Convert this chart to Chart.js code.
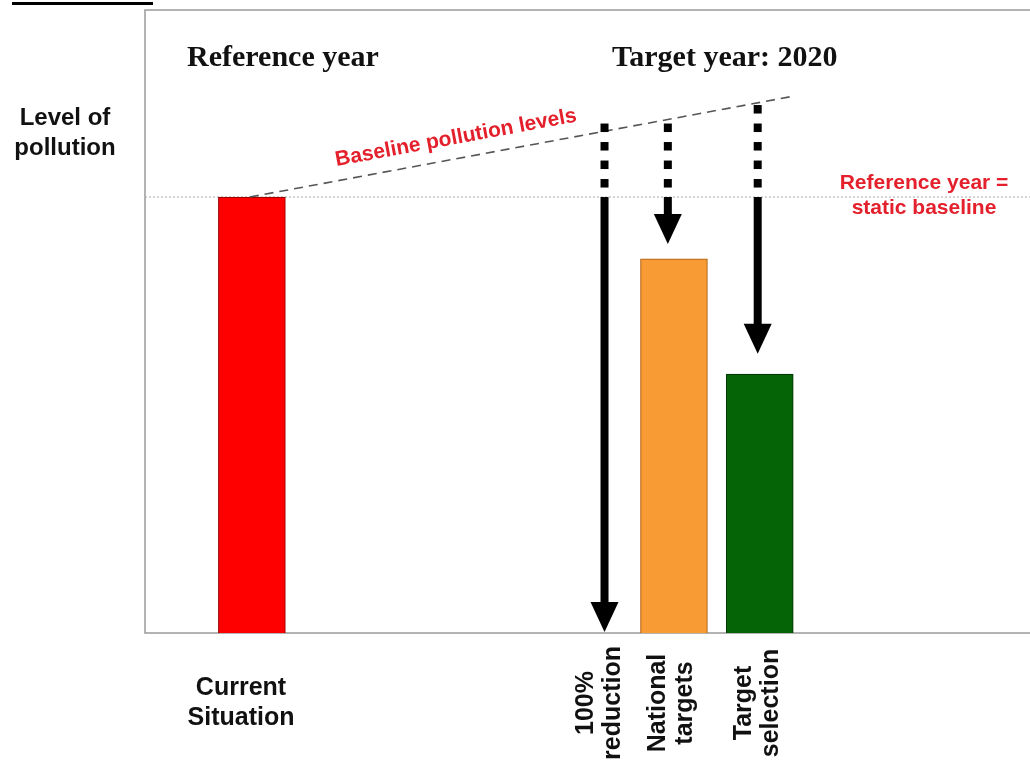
<!DOCTYPE html>
<html lang="en">
<head>
    <meta charset="UTF-8">
    <title>Baseline pollution levels</title>
    <!-- Chart.js CDN -->
    <script src="https://cdn.jsdelivr.net/npm/chart.js"></script>
    <style>
        body { margin: 0; background: #fff; }
        canvas { display: block; }
    </style>
</head>
<body>

    <canvas id="pollutionChart" width="1030" height="769"></canvas>

    <script>
        // Bars (x = position on the horizontal axis, level = pollution level, reference year = 100)
        const barX = [1.57, 7.77, 9.03];
        const barLevels = [100, 85.8, 59.4];
        const barColors = ['#ff0000', '#f99b35', '#056405'];
        const barBorders = ['#a00000', '#b8691c', '#023a02'];

        // Baseline (dashed) and static reference line
        const baselineX = [1.54, 9.55];
        const baselineY = [100, 123.2];
        const referenceLevel = 100;

        // Arrows: start on the baseline, end at the target level
        const arrowX = [6.75, 7.68, 9.0];
        const arrowFrom = [115.6, 117.8, 122];
        const arrowTo = [0, 89, 63.8];

        // Axis labels
        const labelX = [1.41, 6.68, 7.73, 9.0];
        const labelLines = [['Current', 'Situation'], ['100%', 'reduction'], ['National', 'targets'], ['Target', 'selection']];
        const labelRotated = [false, true, true, true];

        const SANS = '"Liberation Sans", Arial, sans-serif';
        const SERIF = '"Liberation Serif", "Times New Roman", serif';
        const RED_TEXT = '#e3202b';

        // Frame, arrows and all the annotation texts
        const decorPlugin = {
            id: 'decor',
            beforeDatasetsDraw(chart) {
                const { ctx, chartArea: a } = chart;
                ctx.save();
                ctx.strokeStyle = '#9a9a9a';
                ctx.lineWidth = 1.5;
                ctx.beginPath();
                ctx.moveTo(a.right, a.top);
                ctx.lineTo(a.left, a.top);
                ctx.lineTo(a.left, a.bottom);
                ctx.lineTo(a.right, a.bottom);
                ctx.stroke();
                ctx.restore();
            },
            afterDatasetsDraw(chart) {
                const { ctx } = chart;
                const xs = chart.scales.x, ys = chart.scales.y;
                ctx.save();

                // arrows
                ctx.fillStyle = '#000';
                const refPx = ys.getPixelForValue(referenceLevel);
                arrowX.forEach((v, i) => {
                    const x = xs.getPixelForValue(v);
                    const top = ys.getPixelForValue(arrowFrom[i]);
                    const tip = ys.getPixelForValue(arrowTo[i]) - 1;
                    // dotted part above the reference line, stacked up from the line
                    for (let y = refPx - 18; y >= top - 6; y -= 18.5) {
                        ctx.fillRect(x - 4, y, 8, 8.5);
                    }
                    // solid shaft
                    const headH = 30;
                    ctx.fillRect(x - 4, refPx, 8, tip - headH - refPx + 1);
                    // head
                    ctx.beginPath();
                    ctx.moveTo(x - 14, tip - headH);
                    ctx.lineTo(x + 14, tip - headH);
                    ctx.lineTo(x, tip);
                    ctx.closePath();
                    ctx.fill();
                });

                // headings
                ctx.fillStyle = '#111';
                ctx.textBaseline = 'middle';
                ctx.textAlign = 'left';
                ctx.font = 'bold 30px ' + SERIF;
                ctx.fillText('Reference year', 187, 58);
                ctx.fillText('Target year: 2020', 612, 58);

                ctx.textAlign = 'center';
                ctx.font = 'bold 24px ' + SANS;
                ctx.fillText('Level of', 65, 118);
                ctx.fillText('pollution', 65, 148);

                // category labels
                labelX.forEach((v, i) => {
                    const x = xs.getPixelForValue(v);
                    ctx.font = 'bold 25px ' + SANS;
                    ctx.fillStyle = '#111';
                    if (labelRotated[i]) {
                        ctx.save();
                        ctx.translate(x, 703);
                        ctx.rotate(-Math.PI / 2);
                        ctx.fillText(labelLines[i][0], 0, -13.5);
                        ctx.fillText(labelLines[i][1], 0, 13.5);
                        ctx.restore();
                    } else {
                        ctx.fillText(labelLines[i][0], x, 688);
                        ctx.fillText(labelLines[i][1], x, 718);
                    }
                });

                // red notes
                ctx.fillStyle = RED_TEXT;
                ctx.font = 'bold 21px ' + SANS;
                ctx.fillText('Reference year =', 924, 183);
                ctx.fillText('static baseline', 924, 208);

                const x0 = xs.getPixelForValue(baselineX[0]), y0 = ys.getPixelForValue(baselineY[0]);
                const x1 = xs.getPixelForValue(baselineX[1]), y1 = ys.getPixelForValue(baselineY[1]);
                ctx.save();
                ctx.translate(456, 138);
                ctx.rotate(Math.atan2(y1 - y0, x1 - x0));
                ctx.fillText('Baseline pollution levels', 0, 0);
                ctx.restore();

                // underline of the cropped caption at the very top
                ctx.fillStyle = '#000';
                ctx.fillRect(12, 2, 141, 3);

                ctx.restore();
            }
        };

        const ctx = document.getElementById('pollutionChart').getContext('2d');
        const pollutionChart = new Chart(ctx, {
            type: 'bar',
            data: {
                datasets: [
                    {
                        type: 'line',
                        label: 'Reference year',
                        data: [{ x: 0, y: referenceLevel }, { x: 13, y: referenceLevel }],
                        borderColor: '#a8a8a8',
                        borderWidth: 1,
                        borderDash: [2, 2],
                        pointRadius: 0,
                        order: 2
                    },
                    {
                        type: 'line',
                        label: 'Baseline pollution levels',
                        data: baselineX.map((x, i) => ({ x: x, y: baselineY[i] })),
                        borderColor: '#555',
                        borderWidth: 1.6,
                        borderDash: [9, 6],
                        pointRadius: 0,
                        order: 0
                    },
                    {
                        label: 'Level of pollution',
                        data: barX.map((x, i) => ({ x: x, y: barLevels[i] })),
                        backgroundColor: barColors,
                        borderColor: barBorders,
                        borderWidth: 1.2,
                        barThickness: 67,
                        order: 1
                    }
                ]
            },
            options: {
                responsive: false,
                animation: false,
                layout: {
                    padding: { left: 145, top: 10, right: 0, bottom: 136 }
                },
                plugins: {
                    legend: { display: false },
                    tooltip: { enabled: false }
                },
                scales: {
                    x: { type: 'linear', min: 0, max: 13, offset: false, display: false },
                    y: { min: 0, max: 142.9, display: false }
                }
            },
            plugins: [decorPlugin]
        });
    </script>

</body>
</html>
